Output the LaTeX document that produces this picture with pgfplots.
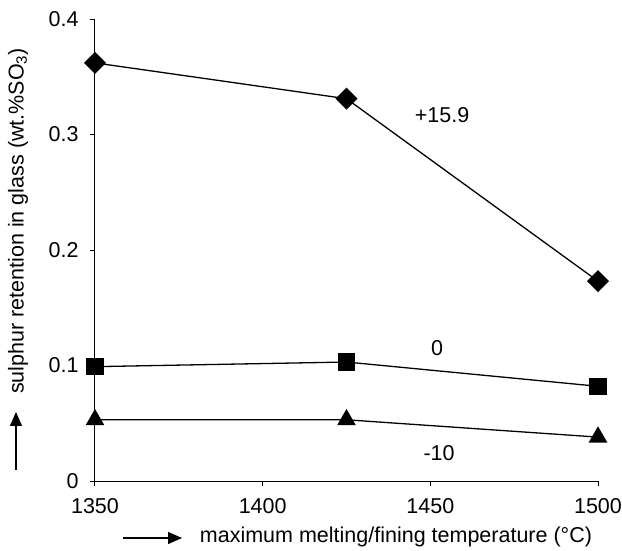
\documentclass[border=0pt]{standalone}
\usepackage{fontspec}
\setmainfont{Liberation Sans}
\usepackage{pgfplots}
\pgfplotsset{compat=1.18}
\usetikzlibrary{arrows.meta}

\newcommand\lblfont{\fontsize{21.5bp}{25bp}\selectfont}

\begin{document}
\begin{tikzpicture}
\path[use as bounding box] (-95bp,-70bp) rectangle (527bp,481bp);
\begin{axis}[
  at={(0,0)}, anchor=south west,
  scale only axis, width=503bp, height=462bp,
  xmin=1350, xmax=1500, ymin=0, ymax=0.4,
  axis x line*=bottom, axis y line*=left,
  axis line style={line width=1bp, -},
  xtick={1350,1400,1450,1500}, ytick={0,0.1,0.2,0.3,0.4},
  tick align=outside, major tick length=5bp,
  tick style={line width=1bp, black},
  tick label style={font=\lblfont},
  yticklabel style={xshift=-8bp},
  xticklabel style={yshift=-9bp},
  /pgf/number format/assume math mode=true,
  /pgf/number format/1000 sep={},
  clip=false,
  every axis plot/.append style={black, line width=1.3bp},
]
% +15.9
\addplot[mark=square*, mark size=7.1bp, mark options={rotate=45}] coordinates {
  (1350,0.362) (1425,0.331) (1500,0.173)
};
% 0
\addplot[mark=square*, mark size=8bp] coordinates {
  (1350,0.099) (1425,0.103) (1500,0.082)
};
% -10
\addplot[mark=triangle*, mark size=9.5bp] coordinates {
  (1350,0.053) (1425,0.053) (1500,0.038)
};
\node[font=\lblfont] at (axis cs:1453.5,0.317) {+15.9};
\node[font=\lblfont] at (axis cs:1452,0.115) {0};
\node[font=\lblfont] at (axis cs:1452.6,0.024) {-10};
\end{axis}
\node[font=\lblfont, rotate=90] at (-77bp,260bp) {sulphur retention in glass (wt.\%SO\textsubscript{3})};
\draw[line width=1.2bp, -{Triangle[length=14bp,width=12bp]}] (-79bp,11bp) -- (-79bp,69bp);
\draw[line width=1.2bp, -{Triangle[length=14bp,width=12bp]}] (28bp,-57bp) -- (87bp,-57bp);
\node[font=\lblfont] at (301bp,-56bp) {maximum melting/fining temperature (°C)};
\end{tikzpicture}
\end{document}
